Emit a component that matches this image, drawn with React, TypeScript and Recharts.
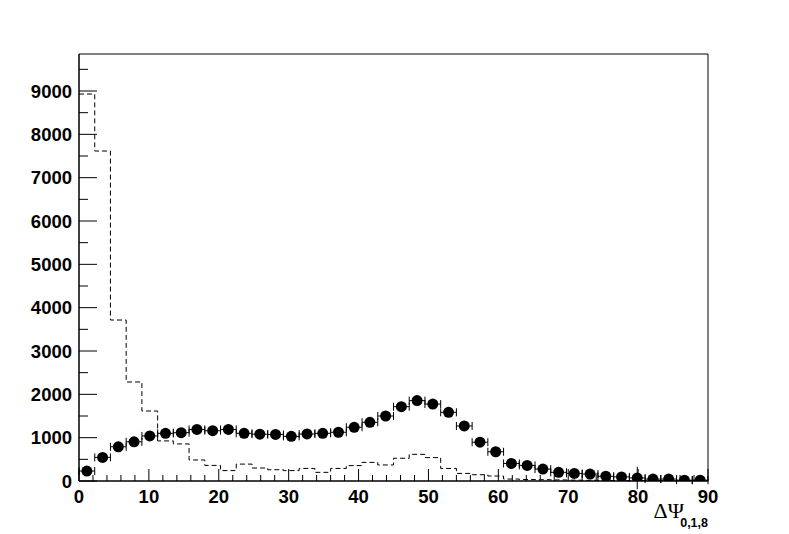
import React from "react";
import {
  ComposedChart, Line, Scatter, ErrorBar, XAxis, YAxis, ReferenceArea, Label,
} from "recharts";

// lower edges of the 40 bins (width 2.25)
const binLow = [
  0, 2.25, 4.5, 6.75, 9, 11.25, 13.5, 15.75, 18, 20.25,
  22.5, 24.75, 27, 29.25, 31.5, 33.75, 36, 38.25, 40.5, 42.75,
  45, 47.25, 49.5, 51.75, 54, 56.25, 58.5, 60.75, 63, 65.25,
  67.5, 69.75, 72, 74.25, 76.5, 78.75, 81, 83.25, 85.5, 87.75,
];
const binWidth = 2.25;

// dashed histogram
const dashedCounts = [
  8930, 7615, 3715, 2285, 1615, 925, 855, 485, 360, 240,
  390, 300, 260, 240, 290, 200, 290, 355, 430, 370,
  525, 615, 540, 290, 175, 145, 115, 45, 35, 30,
  25, 20, 15, 12, 10, 8, 6, 5, 4, 3,
];

// points with errors
const pointCounts = [
  230, 545, 790, 905, 1040, 1100, 1115, 1190, 1160, 1190,
  1100, 1080, 1075, 1030, 1085, 1100, 1125, 1240, 1355, 1500,
  1715, 1855, 1775, 1585, 1270, 895, 675, 405, 360, 275,
  200, 175, 160, 110, 95, 70, 45, 45, 20, 20,
];
const pointErrors = [
  15, 25, 30, 30, 35, 35, 35, 35, 35, 35,
  35, 35, 35, 35, 35, 35, 35, 35, 40, 40,
  45, 45, 45, 40, 35, 30, 30, 25, 25, 20,
  20, 20, 20, 15, 15, 260, 10, 10, 8, 8,
];

const xTicks = [
  0, 2, 4, 6, 8, 10, 12, 14, 16, 18, 20, 22, 24, 26, 28, 30, 32, 34, 36, 38,
  40, 42, 44, 46, 48, 50, 52, 54, 56, 58, 60, 62, 64, 66, 68, 70, 72, 74, 76, 78,
  80, 82, 84, 86, 88, 90,
];
const yTicks = [
  0, 500, 1000, 1500, 2000, 2500, 3000, 3500, 4000, 4500,
  5000, 5500, 6000, 6500, 7000, 7500, 8000, 8500, 9000, 9500,
];
const yMax = 9854;

const lineData = [
  ...binLow.map((x, i) => ({ x, y: dashedCounts[i] })),
  { x: 90, y: dashedCounts[dashedCounts.length - 1] },
];
const pointData = binLow.map((x, i) => ({
  x: x + binWidth / 2,
  y: pointCounts[i],
  ex: binWidth / 2,
  ey: pointErrors[i],
}));

const font = "'Liberation Sans', Arial, sans-serif";

const XTick = (props: any) => {
  const { x, y, payload } = props;
  const major = payload.value % 10 === 0;
  return (
    <g>
      <line x1={x} y1={y} x2={x} y2={y - (major ? 12 : 6)} stroke="#000" />
      {major && (
        <text x={x} y={y + 22} textAnchor="middle" fontFamily={font} fontWeight="bold" fontSize={18.5} fill="#000">
          {payload.value}
        </text>
      )}
    </g>
  );
};

const YTick = (props: any) => {
  const { x, y, payload } = props;
  const major = payload.value % 1000 === 0;
  return (
    <g>
      <line x1={x} y1={y} x2={x + (major ? 18 : 9)} y2={y} stroke="#000" />
      {major && (
        <text x={x - 7} y={y + 6.5} textAnchor="end" fontFamily={font} fontWeight="bold" fontSize={18.5} fill="#000">
          {payload.value}
        </text>
      )}
    </g>
  );
};

const AxisTitle = (props: any) => {
  const vb = props.viewBox;
  const right = vb.x + vb.width;
  return (
    <g>
      <text x={right - 24} y={vb.y + 37} textAnchor="end" fontFamily="'Liberation Serif', serif" fontSize={22} fill="#000">
        ΔΨ
      </text>
      <text x={right} y={vb.y + 46} textAnchor="end" fontFamily={font} fontWeight="bold" fontSize={12.5} fill="#000">
        0,1,8
      </text>
    </g>
  );
};

const Dot = (props: any) => <circle cx={props.cx} cy={props.cy} r={5.5} fill="#000" />;

export default function App() {
  return (
    <div style={{ position: "absolute", left: 0, top: 0, width: 789, height: 534, background: "#fff" }}>
      <ComposedChart width={789} height={534} margin={{ top: 54, right: 81, bottom: 0, left: 19 }}>
        <XAxis
          dataKey="x"
          type="number"
          domain={[0, 90]}
          ticks={xTicks}
          interval={0}
          tickSize={0}
          tickMargin={0}
          tickLine={false}
          tick={<XTick />}
          height={53}
          stroke="#000"
        >
          <Label content={<AxisTitle />} />
        </XAxis>
        <YAxis
          type="number"
          domain={[0, yMax]}
          allowDataOverflow
          ticks={yTicks}
          interval={0}
          tickSize={0}
          tickMargin={0}
          tickLine={false}
          tick={<YTick />}
          width={60}
          stroke="#000"
        />
        <ReferenceArea x1={0} x2={90} y1={0} y2={yMax} fill="none" stroke="#000" strokeWidth={1} />
        <Line
          data={lineData}
          dataKey="y"
          type="stepAfter"
          stroke="#000"
          strokeWidth={1}
          strokeDasharray="5 3"
          dot={false}
          isAnimationActive={false}
        />
        <Scatter data={pointData} dataKey="y" shape={<Dot />} isAnimationActive={false}>
          <ErrorBar dataKey="ex" direction="x" width={4} stroke="#000" strokeWidth={1} />
          <ErrorBar dataKey="ey" direction="y" width={0} stroke="#000" strokeWidth={1} />
        </Scatter>
      </ComposedChart>
    </div>
  );
}
